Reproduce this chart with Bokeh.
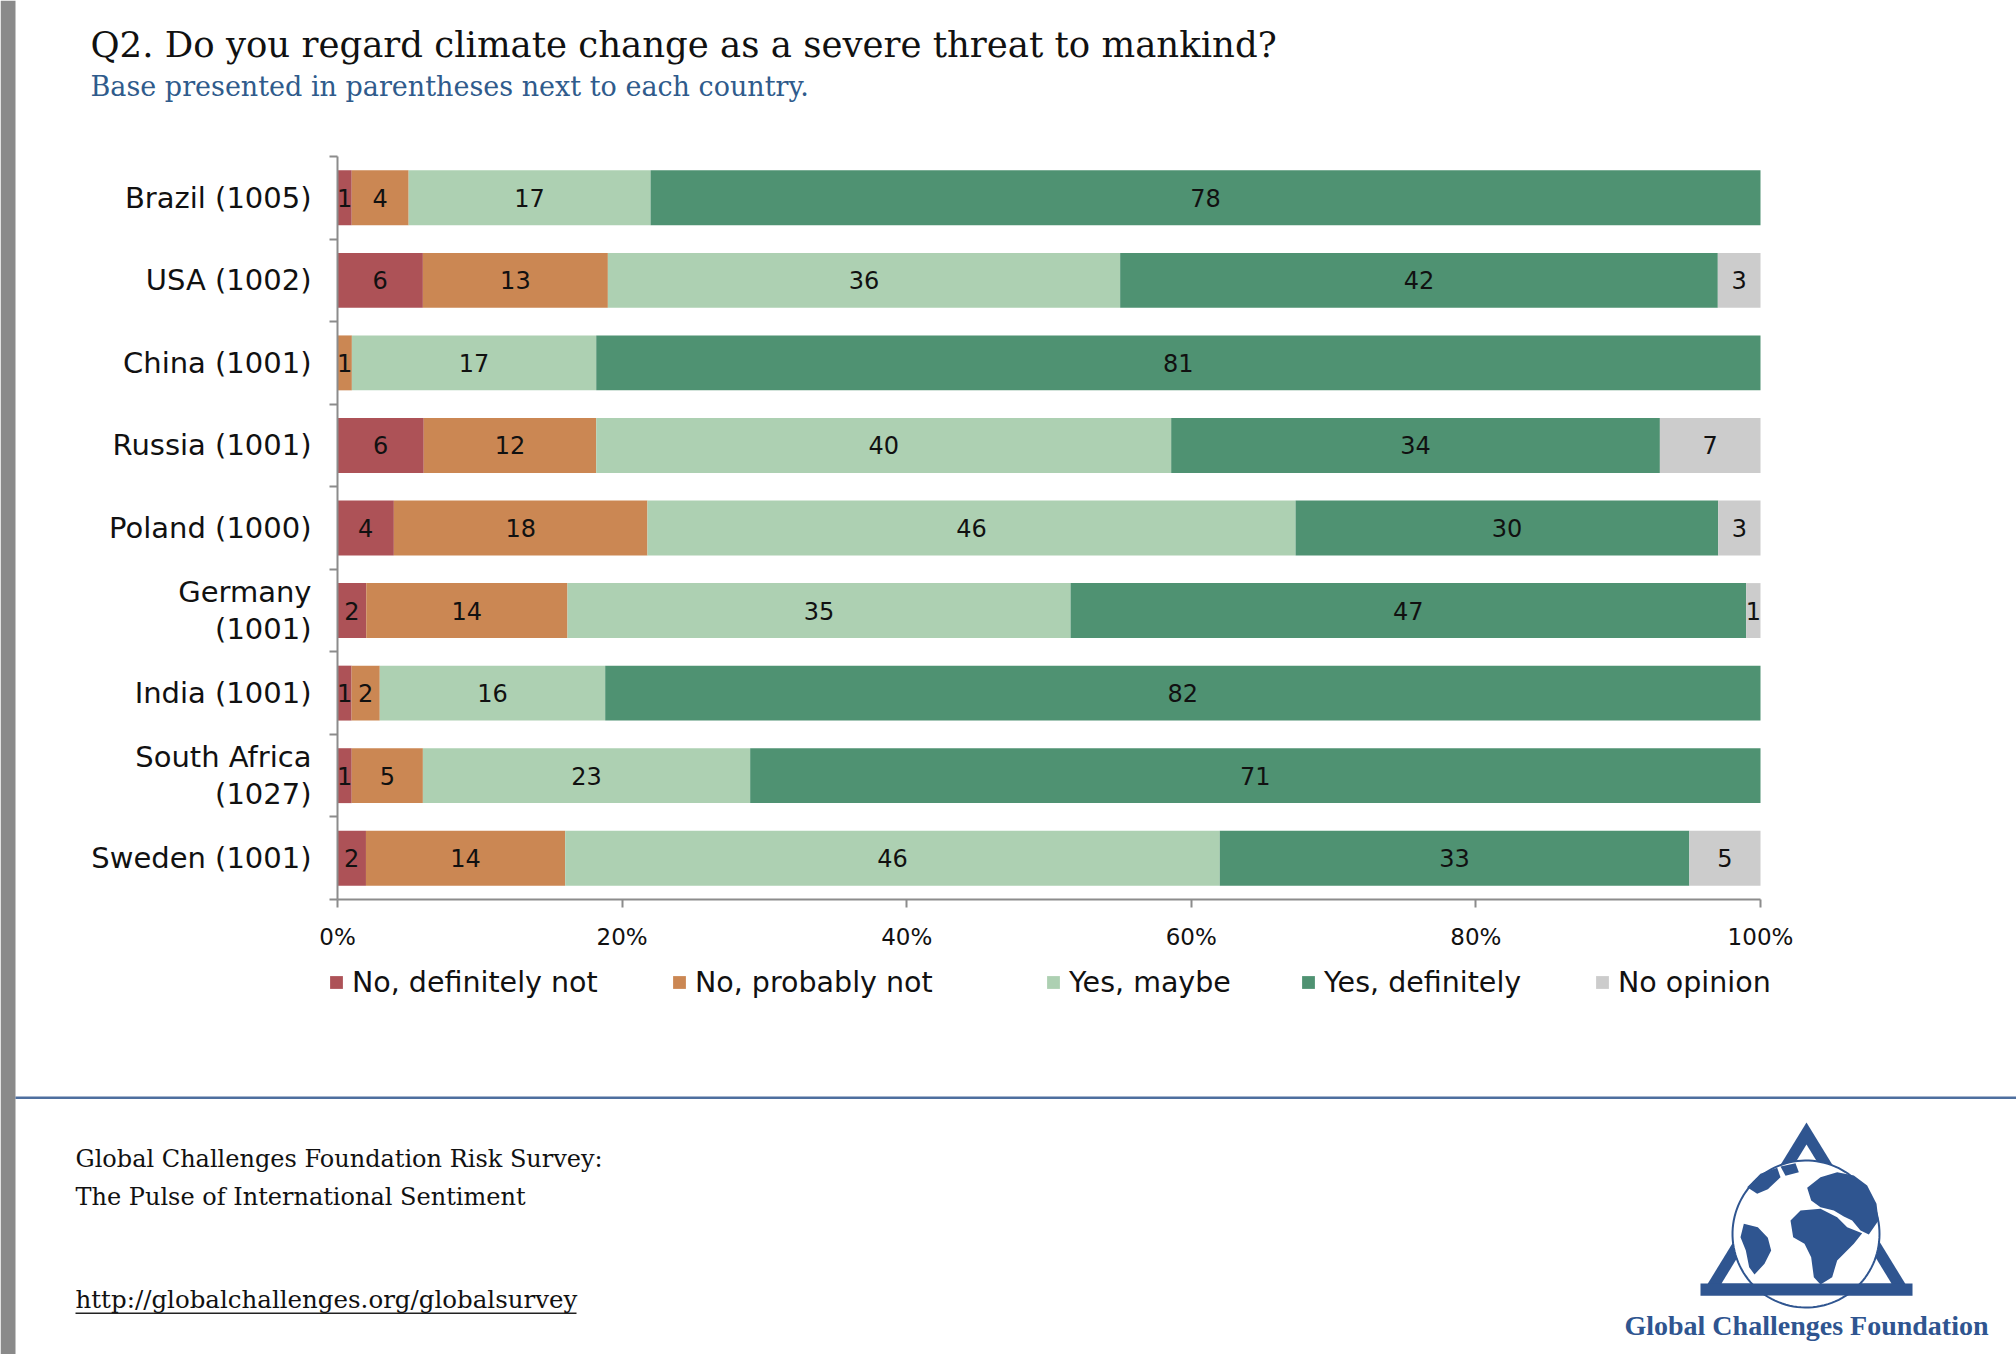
import numpy as np
from bokeh.plotting import figure
from bokeh.models import (ColumnDataSource, Range1d, FixedTicker, Legend, LegendItem,
                          PrintfTickFormatter)
from bokeh.core.properties import value
from bokeh.embed import file_html
from bokeh.resources import INLINE

# ---------------- data ----------------
countries = ["Brazil (1005)", "USA (1002)", "China (1001)", "Russia (1001)", "Poland (1000)",
             "Germany\n(1001)", "India (1001)", "South Africa\n(1027)", "Sweden (1001)"]
series_names = ["No, definitely not", "No, probably not", "Yes, maybe", "Yes, definitely", "No opinion"]
no_definitely_not = [1, 6, 0, 6, 4, 2, 1, 1, 2]
no_probably_not = [4, 13, 1, 12, 18, 14, 2, 5, 14]
yes_maybe = [17, 36, 17, 40, 46, 35, 16, 23, 46]
yes_definitely = [78, 42, 81, 34, 30, 47, 82, 71, 33]
no_opinion = [0, 3, 0, 7, 3, 1, 0, 0, 5]
colors = ["#AD5257", "#CB8753", "#ADD0B2", "#4F9272", "#CCCCCC"]
x_ticks = [0, 20, 40, 60, 80, 100]

title_text = "Q2. Do you regard climate change as a severe threat to mankind?"
subtitle_text = "Base presented in parentheses next to each country."
footer_1 = "Global Challenges Foundation Risk Survey:"
footer_2 = "The Pulse of International Sentiment"
footer_url = "http://globalchallenges.org/globalsurvey"
logo_text = "Global Challenges Foundation"

# ---------------- derived (100% stacked) ----------------
raw = np.array([no_definitely_not, no_probably_not, yes_maybe, yes_definitely, no_opinion], dtype=float)
totals = raw.sum(axis=0)
shares = raw / totals * 100.0
n = len(countries)
ypos = (np.arange(n)[::-1] + 0.5).tolist()
keys = ["s%d" % i for i in range(len(series_names))]
data = {"y": ypos}
for k, r in zip(keys, shares):
    data[k] = r.tolist()
source = ColumnDataSource(data)

lab_x, lab_y, lab_t = [], [], []
left = np.zeros(n)
for i in range(len(series_names)):
    for j in range(n):
        if raw[i, j] > 0:
            lab_x.append(float(left[j] + shares[i, j] / 2.0))
            lab_y.append(ypos[j])
            lab_t.append(str(int(raw[i, j])))
    left = left + shares[i]
lab_source = ColumnDataSource(dict(x=lab_x, y=lab_y, t=lab_t))

# ---------------- page geometry (pixels) ----------------
W, H = 2016, 1354
PX_LEFT, PX_RIGHT = 337, 1760      # 0% and 100%
PY_TOP, PY_BOTTOM = 156, 899       # top of first row, bottom of last row
KX = (PX_RIGHT - PX_LEFT) / 100.0
KY = (PY_BOTTOM - PY_TOP) / float(n)


def X(px):
    return (px - PX_LEFT) / KX


def Y(py):
    return (PY_BOTTOM - py) / KY


TXT = "#111111"
AXIS = "#8C8C8C"
GRAY = "#8A8A8A"
BLUE_LINE = "#4E6F9F"
LOGO_BLUE = "#2F5590"

p = figure(width=W, height=H, x_range=Range1d(X(0), X(W)), y_range=Range1d(Y(H), Y(0)),
           output_backend="svg", toolbar_location=None, min_border=0)
p.outline_line_color = None
p.grid.visible = False
p.background_fill_color = "white"
p.border_fill_color = "white"

# ---------------- bars and labels ----------------
renderers = p.hbar_stack(keys, y="y", height=0.665, fill_color=colors, line_color=None, source=source)

p.text(x="x", y="y", text="t", source=lab_source, text_align="center", text_baseline="middle",
       text_font=value("DejaVu Sans"), text_font_size="24px", text_color=TXT)

# ---------------- axes (fixed inside the canvas-wide frame) ----------------
xa = p.xaxis[0]
xa.fixed_location = 0
xa.bounds = (0, 100)
xa.ticker = FixedTicker(ticks=x_ticks, minor_ticks=[])
xa.formatter = PrintfTickFormatter(format="%d%%")
xa.axis_line_color = AXIS
xa.axis_line_width = 2
xa.major_tick_line_color = AXIS
xa.major_tick_line_width = 2
xa.major_tick_out = 8
xa.major_tick_in = 0
xa.minor_tick_line_color = None
xa.major_label_text_font = "DejaVu Sans"
xa.major_label_text_font_size = "23px"
xa.major_label_text_color = TXT
xa.major_label_standoff = 16

ya = p.yaxis[0]
ya.fixed_location = 0
ya.bounds = (0, n)
ya.ticker = FixedTicker(ticks=ypos, minor_ticks=list(range(n + 1)))
ya.major_label_overrides = {float(yv): c for yv, c in zip(ypos, countries)}
ya.axis_line_color = AXIS
ya.axis_line_width = 2
ya.major_tick_line_color = None
ya.major_tick_out = 0
ya.major_tick_in = 0
ya.minor_tick_line_color = AXIS
ya.minor_tick_line_width = 2
ya.minor_tick_out = 8
ya.minor_tick_in = 0
ya.major_label_text_font = "DejaVu Sans"
ya.major_label_text_font_size = "29px"
ya.major_label_text_line_height = 1.1
ya.major_label_text_color = TXT
ya.major_label_standoff = 18

# ---------------- legend: one per item, positioned like the original ----------------
leg_px = [328, 671, 1045, 1300, 1594]
LEG_H = 34
LEG_CY = 982
for nm, r, lx in zip(series_names, renderers, leg_px):
    lg = Legend(items=[LegendItem(label=nm, renderers=[r])],
                location=(lx, H - (LEG_CY + LEG_H / 2)), orientation="horizontal",
                padding=0, margin=0, spacing=0, glyph_width=16, glyph_height=16,
                label_height=LEG_H, label_standoff=8,
                label_text_font="DejaVu Sans", label_text_font_size="28.5px", label_text_color=TXT,
                border_line_color=None, background_fill_alpha=0)
    p.add_layout(lg, "center")

# ---------------- page decorations ----------------


def rect_px(l, r, t, b, color):
    p.quad(left=[X(l)], right=[X(r)], top=[Y(t)], bottom=[Y(b)], fill_color=color, line_color=None)


def text_px(x, y, text, font, size, color=TXT, style="normal", align="left"):
    p.text(x=[X(x)], y=[Y(y)], text=[text], text_font=value(font), text_font_size=size,
           text_color=color, text_font_style=style, text_align=align, text_baseline="middle")


rect_px(0, 15, 0, H, GRAY)                    # left gray strip
rect_px(15, W, 1096, 1098.5, BLUE_LINE)       # separator line

text_px(90, 44, title_text, "DejaVu Serif", "35.5px")
text_px(90, 86, subtitle_text, "DejaVu Serif", "27px", "#2F5B8C")
text_px(75, 1158, footer_1, "DejaVu Serif", "24px")
text_px(75, 1196, footer_2, "DejaVu Serif", "24px")
text_px(75, 1299, footer_url, "DejaVu Serif", "24.5px")
rect_px(75, 576, 1312, 1313.5, "#222222")     # URL underline
text_px(1806, 1325, logo_text, "Liberation Serif", "28px", LOGO_BLUE, "bold", "center")

# logo (decorative): triangle, globe, rough continents


def zp(pts):
    return [(1680 + a / 3.0, 1110 + b / 3.0) for a, b in pts]


def patch_px(pts, fill, line=None, lw=0):
    p.patch(x=[X(a) for a, _ in pts], y=[Y(b) for _, b in pts], fill_color=fill,
            line_color=line, line_width=lw)


patch_px([(1806, 1122), (1700, 1295), (1912, 1295)], LOGO_BLUE)
patch_px([(1806, 1144), (1721, 1283), (1891, 1283)], "white")
th = np.linspace(0, 2 * np.pi, 120)
patch_px([(1805.5 + 73.5 * np.cos(t), 1233.5 + 73.5 * np.sin(t)) for t in th], "white", LOGO_BLUE, 2)
patch_px(zp([(330, 330), (360, 300), (420, 295), (470, 320), (500, 350), (545, 368), (520, 400),
             (470, 450), (455, 500), (420, 522), (400, 500), (392, 440), (372, 400), (338, 380)]), LOGO_BLUE)
patch_px(zp([(380, 232), (420, 200), (470, 185), (520, 195), (560, 225), (588, 280), (594, 330),
             (565, 372), (540, 360), (515, 330), (490, 318), (460, 300), (420, 290), (392, 270)]), LOGO_BLUE)
patch_px(zp([(190, 340), (232, 350), (262, 382), (272, 420), (252, 460), (222, 492), (206, 470),
             (196, 420), (180, 380)]), LOGO_BLUE)
patch_px(zp([(200, 230), (240, 190), (290, 172), (300, 200), (262, 236), (230, 250)]), LOGO_BLUE)
patch_px(zp([(300, 168), (345, 158), (355, 185), (315, 196)]), LOGO_BLUE)
patch_px([(1700, 1283), (1912, 1283), (1912, 1295), (1700, 1295)], LOGO_BLUE)

open("out.html", "w").write(file_html(p, INLINE))
